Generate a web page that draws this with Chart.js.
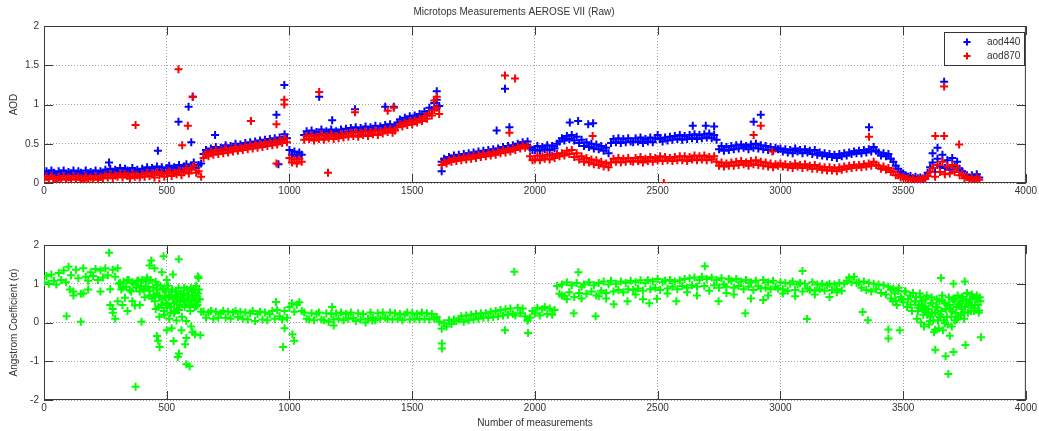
<!DOCTYPE html>
<html lang="en">
<head>
<meta charset="UTF-8">
<title>Microtops Measurements AEROSE VII (Raw)</title>
<script src="https://cdn.jsdelivr.net/npm/chart.js"></script>
<style>
  body { margin: 0; background: #fff; }
  canvas { position: absolute; left: 0; }
</style>
</head>
<body>
<canvas id="topChart" width="1039" height="215" style="top:0"></canvas>
<canvas id="botChart" width="1039" height="216" style="top:215px"></canvas>
<script>
// measurement number of value i is i * STEP
const STEP = 10;

const aod440 = [
  0.11,0.15,0.12,0.16,0.13,0.10,0.15,0.12,0.16,0.11,0.14,0.12,0.16,0.11,0.15,0.13,0.10,0.16,0.12,0.14,
  0.12,0.16,0.11,0.15,0.13,0.17,0.14,0.18,0.13,0.17,0.15,0.19,0.14,0.18,0.16,0.13,0.19,0.15,0.17,0.14,
  0.18,0.15,0.20,0.16,0.19,0.14,0.21,0.17,0.20,0.15,0.19,0.22,0.16,0.20,0.18,0.23,0.17,0.21,0.24,0.18,
  0.22,0.26,0.19,0.23,0.25,0.37,0.42,0.39,0.44,0.40,0.46,0.41,0.45,0.42,0.48,0.43,0.47,0.44,0.50,0.45,
  0.49,0.46,0.51,0.47,0.52,0.48,0.53,0.49,0.54,0.50,0.55,0.51,0.56,0.52,0.57,0.53,0.58,0.55,0.62,0.57,
  0.42,0.36,0.40,0.34,0.39,0.36,0.61,0.66,0.62,0.67,0.60,0.65,0.62,0.68,0.61,0.66,0.63,0.68,0.62,0.66,
  0.63,0.68,0.64,0.69,0.65,0.70,0.66,0.71,0.65,0.70,0.67,0.72,0.66,0.71,0.68,0.73,0.67,0.72,0.69,0.74,
  0.71,0.75,0.70,0.73,0.77,0.81,0.78,0.83,0.80,0.85,0.81,0.86,0.83,0.88,0.85,0.91,0.88,0.96,0.93,1.02,
  1.06,0.98,0.27,0.31,0.29,0.33,0.31,0.35,0.32,0.36,0.33,0.37,0.34,0.38,0.35,0.39,0.36,0.40,0.37,0.41,
  0.38,0.42,0.39,0.43,0.40,0.44,0.42,0.46,0.43,0.47,0.44,0.48,0.46,0.50,0.48,0.52,0.49,0.53,0.45,0.42,
  0.42,0.47,0.41,0.46,0.43,0.48,0.42,0.47,0.44,0.50,0.53,0.57,0.54,0.60,0.56,0.61,0.54,0.59,0.51,0.55,
  0.47,0.52,0.46,0.50,0.44,0.49,0.43,0.47,0.41,0.45,0.38,0.51,0.56,0.52,0.57,0.51,0.56,0.52,0.57,0.53,
  0.52,0.57,0.53,0.58,0.51,0.56,0.53,0.58,0.52,0.57,0.61,0.56,0.53,0.58,0.54,0.59,0.55,0.60,0.56,0.61,
  0.55,0.60,0.56,0.61,0.57,0.62,0.56,0.61,0.57,0.62,0.58,0.63,0.57,0.61,0.55,0.43,0.47,0.41,0.46,0.42,
  0.47,0.43,0.48,0.44,0.49,0.45,0.47,0.43,0.49,0.45,0.50,0.44,0.48,0.43,0.47,0.42,0.46,0.41,0.45,0.43,
  0.44,0.40,0.43,0.39,0.42,0.38,0.44,0.40,0.42,0.38,0.43,0.39,0.41,0.37,0.42,0.36,0.39,0.35,0.38,0.34,
  0.37,0.33,0.36,0.32,0.37,0.34,0.38,0.35,0.39,0.37,0.40,0.38,0.41,0.38,0.42,0.39,0.43,0.40,0.46,0.41,
  0.39,0.35,0.38,0.34,0.37,0.31,0.27,0.22,0.18,0.14,0.12,0.10,0.08,0.09,0.06,0.08,0.06,0.07,0.05,0.08,
  0.13,0.20,0.26,0.14,0.31,0.21,0.36,0.19,0.29,0.17,0.32,0.21,0.27,0.18,0.15,0.11,0.10,0.07,0.10,0.06,
  0.11,0.07
];

const aod870 = [
  0.04,0.08,0.05,0.09,0.06,0.03,0.08,0.05,0.09,0.04,0.07,0.05,0.09,0.04,0.08,0.06,0.03,0.09,0.05,0.07,
  0.05,0.09,0.04,0.08,0.06,0.10,0.07,0.11,0.06,0.10,0.08,0.12,0.07,0.11,0.09,0.06,0.12,0.08,0.10,0.07,
  0.11,0.08,0.13,0.09,0.12,0.07,0.14,0.10,0.13,0.08,0.12,0.15,0.09,0.13,0.11,0.16,0.10,0.14,0.19,0.12,
  0.17,0.22,0.13,0.15,0.08,0.32,0.38,0.34,0.40,0.36,0.42,0.37,0.41,0.38,0.44,0.39,0.43,0.40,0.46,0.41,
  0.45,0.42,0.47,0.43,0.48,0.44,0.49,0.45,0.50,0.46,0.51,0.47,0.52,0.48,0.53,0.49,0.54,0.51,0.57,0.52,
  0.32,0.26,0.30,0.25,0.31,0.27,0.55,0.60,0.56,0.61,0.54,0.59,0.56,0.62,0.55,0.60,0.57,0.62,0.56,0.60,
  0.57,0.62,0.58,0.63,0.59,0.64,0.60,0.65,0.59,0.64,0.61,0.66,0.60,0.65,0.62,0.67,0.61,0.66,0.63,0.68,
  0.65,0.69,0.64,0.67,0.71,0.75,0.72,0.77,0.74,0.79,0.75,0.80,0.77,0.82,0.79,0.85,0.82,0.89,0.86,0.93,
  0.96,0.88,0.23,0.27,0.25,0.29,0.27,0.31,0.28,0.32,0.29,0.33,0.30,0.34,0.31,0.35,0.32,0.36,0.33,0.37,
  0.34,0.38,0.35,0.39,0.36,0.40,0.38,0.42,0.39,0.43,0.40,0.44,0.42,0.46,0.44,0.48,0.45,0.47,0.34,0.29,
  0.30,0.35,0.29,0.34,0.31,0.36,0.30,0.35,0.32,0.37,0.34,0.38,0.35,0.41,0.37,0.42,0.33,0.38,0.30,0.34,
  0.27,0.32,0.26,0.30,0.24,0.29,0.23,0.27,0.21,0.25,0.20,0.26,0.31,0.27,0.32,0.26,0.31,0.27,0.32,0.28,
  0.27,0.32,0.28,0.33,0.26,0.31,0.28,0.33,0.27,0.32,0.29,0.34,0.28,0.33,0.29,0.32,0.28,0.33,0.29,0.34,
  0.29,0.34,0.28,0.33,0.30,0.35,0.29,0.34,0.30,0.35,0.29,0.33,0.30,0.34,0.27,0.22,0.26,0.21,0.25,0.22,
  0.26,0.22,0.27,0.23,0.28,0.24,0.26,0.22,0.28,0.24,0.29,0.23,0.27,0.22,0.26,0.21,0.25,0.20,0.24,0.22,
  0.25,0.21,0.24,0.20,0.23,0.19,0.25,0.21,0.23,0.19,0.24,0.20,0.22,0.18,0.23,0.18,0.21,0.17,0.20,0.16,
  0.20,0.16,0.19,0.15,0.20,0.17,0.21,0.18,0.22,0.19,0.23,0.20,0.23,0.20,0.24,0.21,0.25,0.22,0.27,0.23,
  0.22,0.18,0.21,0.17,0.19,0.14,0.15,0.10,0.10,0.07,0.08,0.05,0.06,0.04,0.06,0.03,0.05,0.04,0.06,0.05,
  0.09,0.14,0.19,0.08,0.23,0.14,0.27,0.11,0.21,0.12,0.23,0.14,0.19,0.10,0.11,0.06,0.08,0.04,0.07,0.03,
  0.07,0.04
];

const alpha = [
  1.04,1.20,1.00,1.24,1.08,0.98,1.28,1.10,1.34,1.04,1.44,1.22,0.80,1.36,1.14,0.74,1.40,1.18,1.08,1.30,
  1.20,1.38,1.10,1.34,1.16,1.40,1.22,0.86,1.36,1.18,1.40,1.02,0.90,0.64,1.10,0.84,1.04,0.44,1.08,0.80,
  1.10,0.88,1.16,0.82,0.62,1.40,0.96,0.70,0.46,0.88,0.38,0.68,0.80,0.24,0.54,0.32,0.74,0.56,0.04,0.70,
  0.48,0.84,0.42,0.60,0.28,0.28,0.12,0.26,0.30,0.10,0.28,0.12,0.24,0.30,0.12,0.28,0.10,0.26,0.30,0.14,
  0.28,0.10,0.26,0.08,0.24,0.30,0.04,0.22,0.28,0.08,0.26,0.06,0.22,0.30,0.10,0.32,0.16,0.08,0.30,0.12,
  0.40,0.50,0.28,0.46,0.52,0.30,0.26,0.10,0.08,0.24,0.06,0.22,0.26,0.08,0.06,0.24,0.02,0.22,0.08,0.24,
  0.10,0.26,0.06,0.22,0.10,0.26,0.12,0.04,0.24,0.08,0.22,0.00,0.10,0.26,0.12,0.06,0.24,0.10,0.26,0.12,
  0.10,0.26,0.08,0.24,0.10,0.22,0.06,0.20,0.26,0.08,0.24,0.10,0.22,0.08,0.26,0.10,0.24,0.08,0.22,0.10,
  0.14,0.02,-0.16,-0.02,-0.10,0.06,-0.04,0.08,0.04,0.08,0.16,0.02,0.18,0.06,0.20,0.08,0.22,0.10,0.24,0.12,
  0.24,0.12,0.28,0.14,0.30,0.16,0.32,0.18,0.34,0.20,0.36,0.22,0.18,0.38,0.24,0.36,0.16,0.06,0.12,0.30,
  0.24,0.38,0.18,0.34,0.40,0.22,0.36,0.20,0.32,0.94,0.74,0.98,0.68,1.04,0.78,0.96,0.66,1.02,0.76,0.92,
  0.98,0.74,1.04,0.80,0.96,0.70,1.02,0.82,1.06,0.76,0.98,1.08,0.80,1.00,0.84,1.06,0.78,1.02,0.86,1.08,
  0.84,1.04,0.88,1.09,0.82,1.02,1.10,0.86,1.06,0.90,1.12,0.84,1.04,1.08,0.88,1.10,0.92,1.06,0.86,1.09,
  0.94,1.12,0.90,1.14,0.96,1.16,0.92,1.10,1.18,0.94,1.12,0.82,1.16,0.96,1.10,0.90,1.14,0.98,0.92,1.12,
  1.08,0.90,1.12,0.94,1.06,0.86,1.10,0.92,1.04,0.84,1.08,0.94,0.88,1.10,0.90,1.04,0.86,1.08,0.92,0.88,
  1.04,0.86,1.02,0.82,1.00,1.06,0.84,0.98,1.02,0.80,1.00,0.88,0.84,1.04,0.82,0.98,0.86,1.00,0.82,0.96,
  1.00,0.84,0.98,0.86,1.02,0.82,1.00,1.08,1.16,1.04,1.18,1.02,1.04,0.90,1.06,0.84,1.02,0.80,1.00,0.86,
  0.98,0.76,0.96,0.72,0.92,0.62,0.88,0.56,0.82,0.66,0.52,0.80,0.60,0.46,0.76,0.54,0.38,0.66,0.44,0.32,
  0.26,0.04,0.49,-0.19,0.39,0.14,0.56,-0.02,0.44,-0.34,0.29,0.62,0.08,0.49,0.66,0.26,0.76,0.44,0.72,0.36,
  0.62,0.31
];

// stray measurements [measurement, value]
const aod440Outliers = [
  [265,0.26],[464,0.41],[548,0.78],[589,0.97],[606,1.10],[600,0.52],[843,0.79],[697,0.61],
  [947,0.87],[955,0.24],[979,1.25],[1121,1.10],[1174,0.80],[1267,0.94],[1390,0.97],[1425,0.97],
  [1600,1.17],[1620,0.15],[1878,1.20],[1844,0.67],[1896,0.71],[2142,0.77],[2176,0.79],[2217,0.75],
  [2237,0.76],[2643,0.73],[2696,0.73],[2730,0.72],[2891,0.78],[2920,0.87],[3361,0.71],[3667,1.29],
  [3620,0.38],[3640,0.45]
];
const aod870Outliers = [
  [373,0.74],[548,1.45],[606,1.10],[586,0.73],[563,0.48],[470,-0.01],[843,0.79],[947,0.25],
  [979,1.06],[979,1.00],[947,0.75],[1121,1.16],[1157,0.13],[1267,0.90],[1400,0.92],[1425,0.96],
  [1878,1.37],[1919,1.33],[1896,0.64],[2235,0.60],[2525,0.00],[2891,0.61],[2920,0.73],[2967,0.40],
  [3361,0.59],[3667,1.23],[3631,0.60],[3667,0.60],[3728,0.49],[1600,1.10],[1590,1.05]
];
const alphaOutliers = [
  [265,1.80],[487,1.71],[549,1.63],[373,-1.66],[593,-1.13],[580,-1.08],[545,-0.89],[550,-0.80],
  [471,-0.63],[465,-0.47],[460,-0.35],[528,-0.48],[575,-0.56],[637,-0.33],[605,-0.25],[92,0.16],
  [150,0.02],[397,0.02],[974,-0.63],[1019,-0.47],[1012,-0.30],[980,-0.15],[945,0.53],[1174,0.40],
  [627,1.19],[525,1.24],[437,1.60],[430,1.47],[1621,-0.54],[1621,-0.67],[1916,1.31],[1878,-0.20],
  [2692,1.45],[2177,1.30],[3090,1.33],[3654,1.15],[3705,1.00],[3751,1.06],[3684,-1.33],[3631,-0.70],
  [3673,-0.87],[3705,-0.76],[3754,-0.58],[3817,-0.38],[3440,-0.41],[3486,-0.20],[3440,-0.18],[3356,0.06],
  [3335,0.27],[3108,0.09],[2857,0.24],[2247,0.16],[2158,0.24],[1972,-0.27],[2748,0.55],[2576,0.55],
  [2377,0.55],[2321,0.47],[2466,0.50],[2497,0.61],[1970,0.05],[1338,0.05],[1180,-0.08],
  [455,0.35],[490,0.20],[510,0.10],[520,-0.15],[560,-0.20],[580,-0.40],[600,-0.10],[615,-0.30],
  [500,-0.20],[540,0.05],[470,0.15],[480,1.30],[500,1.10],[620,0.95],[630,1.15],
  [105,0.85],[120,0.70],[160,0.75],[180,0.85],[230,0.80],[270,0.45],[280,0.35],[300,0.55],
  [320,0.45],[340,0.30],[360,0.55],[390,0.45],[410,0.65],[430,0.70],[280,0.25],[290,0.10],
  [2110,0.70],[2130,0.60],[2190,0.62],[2260,0.68],[2290,0.62],[2410,0.72],[2440,0.60],[2540,0.75],
  [2620,0.78],[2660,0.70],[2780,0.76],[2810,0.72],[2880,0.62],[2930,0.58],[2950,0.70],[3010,0.75],
  [3060,0.68],[3140,0.72],[3200,0.66],[3230,0.78]
];
// dense scatter of the noisy stretches
const alphaCloud = [
  [305,1.00],[315,0.85],[325,1.05],[335,0.92],[345,1.10],[355,0.80],[365,1.00],[375,0.90],
  [385,1.08],[395,0.95],[405,0.85],[415,1.05],[425,0.92],[435,1.10],
  [445,0.90],[452,0.55],[458,0.75],[466,0.40],[474,0.95],[482,0.60],[488,0.30],[495,0.80],
  [503,0.45],[508,0.65],[515,0.25],[522,0.85],[530,0.50],[535,0.70],[542,0.35],[548,0.90],
  [555,0.55],[562,0.15],[568,0.75],[573,0.40],[582,0.85],[588,0.60],[596,0.30],[603,0.80],
  [610,0.55],[618,0.70],[625,0.45],[632,0.85],
  [448,0.70],[455,1.05],[462,0.85],[470,0.65],[478,0.45],[485,0.85],[492,0.65],[498,0.50],
  [505,0.95],[512,0.70],[518,0.40],[525,0.60],[532,0.30],[538,0.80],[545,0.65],[552,0.45],
  [558,0.75],[565,0.60],[571,0.90],[578,0.55],[585,0.70],[592,0.45],[598,0.90],[606,0.65],
  [613,0.40],[620,0.60],[628,0.75],[635,0.60],
  [3450,0.85],[3458,0.55],[3466,0.75],[3474,0.45],[3482,0.90],[3495,0.60],[3508,0.80],[3516,0.40],
  [3528,0.70],[3536,0.30],[3548,0.55],[3556,0.10],[3565,0.45],[3572,0.00],[3578,0.35],[3585,-0.10],
  [3592,0.60],[3598,0.20],[3605,-0.05],[3612,0.50],[3618,0.25],[3626,-0.25],[3634,0.40],[3642,0.05],
  [3648,0.55],[3656,0.30],[3662,-0.20],[3670,0.50],[3678,0.15],[3686,0.65],[3692,0.35],[3698,-0.10],
  [3708,0.55],[3714,0.25],[3722,0.70],[3728,0.45],[3736,0.20],[3744,0.60],[3752,0.40],[3760,0.75],
  [3768,0.50],[3776,0.30],[3784,0.65],[3792,0.45],[3800,0.70],[3808,0.25],[3815,0.55],
  [3552,0.65],[3560,0.30],[3568,0.75],[3575,0.55],[3582,0.20],[3589,0.40],[3596,0.70],[3603,0.35],
  [3609,0.15],[3616,0.65],[3623,0.05],[3630,0.25],[3637,0.60],[3645,-0.15],[3652,0.20],[3659,0.70],
  [3666,0.05],[3674,0.35],[3681,-0.05],[3689,0.45],[3696,0.15],[3703,0.60],[3711,0.05],[3718,0.40],
  [3725,0.15],[3733,0.55],[3740,0.35],[3748,0.10],[3756,0.55],[3764,0.25],[3772,0.60],[3780,0.45],
  [3788,0.30],[3796,0.60],[3804,0.45],[3812,0.65]
];

const xTicks = [0, 500, 1000, 1500, 2000, 2500, 3000, 3500, 4000];
const legendNames = ['aod440', 'aod870'];

function toPoints(values, extra) {
  const pts = values.map((v, i) => ({ x: i * STEP, y: v }));
  extra.forEach(list => list.forEach(p => pts.push({ x: p[0], y: p[1] })));
  return pts;
}

Chart.defaults.font.family = '"Liberation Sans", Arial, sans-serif';
Chart.defaults.font.size = 10;
Chart.defaults.color = '#333';

// MATLAB-like box with inward tick marks
const frame = {
  id: 'frame',
  beforeDatasetsDraw(chart) {
    const { ctx, chartArea: a, scales } = chart;
    const L = 9;
    ctx.save();
    ctx.strokeStyle = '#3a3a3a';
    ctx.lineWidth = 1;
    ctx.beginPath();
    scales.x.ticks.forEach(t => {
      const px = Math.round(scales.x.getPixelForValue(t.value)) + 0.5;
      ctx.moveTo(px, a.bottom); ctx.lineTo(px, a.bottom - L);
      ctx.moveTo(px, a.top); ctx.lineTo(px, a.top + L);
    });
    scales.y.ticks.forEach(t => {
      const py = Math.round(scales.y.getPixelForValue(t.value)) + 0.5;
      ctx.moveTo(a.left, py); ctx.lineTo(a.left + L, py);
      ctx.moveTo(a.right, py); ctx.lineTo(a.right - L, py);
    });
    ctx.stroke();
    ctx.strokeRect(a.left + 0.5, a.top + 0.5, a.right - a.left - 1, a.bottom - a.top - 1);
    ctx.restore();
  }
};

function drawCross(ctx, x, y, color) {
  ctx.strokeStyle = color;
  ctx.lineWidth = 2;
  ctx.beginPath();
  ctx.moveTo(x - 3.5, y); ctx.lineTo(x + 3.5, y);
  ctx.moveTo(x, y - 3.5); ctx.lineTo(x, y + 3.5);
  ctx.stroke();
}

const boxLegend = {
  id: 'boxLegend',
  afterDraw(chart) {
    const ctx = chart.ctx;
    ctx.save();
    ctx.fillStyle = '#fff';
    ctx.fillRect(944.5, 32.5, 80, 33);
    ctx.strokeStyle = '#333';
    ctx.lineWidth = 1;
    ctx.strokeRect(944.5, 32.5, 80, 33);
    const colors = ['#0000ff', '#ff0000'];
    legendNames.forEach((name, i) => {
      const y = 42 + i * 14;
      drawCross(ctx, 967, y, colors[i]);
      ctx.fillStyle = '#333';
      ctx.font = '10px "Liberation Sans", Arial, sans-serif';
      ctx.textBaseline = 'middle';
      ctx.textAlign = 'left';
      ctx.fillText(name, 987, y);
    });
    ctx.restore();
  }
};

function pointDataset(label, data, color, order) {
  return {
    label: label,
    data: data,
    order: order,
    pointStyle: 'cross',
    pointRadius: 4,
    pointBorderWidth: 2,
    borderColor: color,
    backgroundColor: color
  };
}

function axes(yMin, yMax, yStep, yTitle, xTitle, xHeight) {
  return {
    x: {
      type: 'linear', min: 0, max: 4000,
      afterBuildTicks: s => { s.ticks = xTicks.map(v => ({ value: v })); },
      afterFit: s => { s.height = xHeight; },
      ticks: { padding: 2, maxRotation: 0, autoSkip: false, callback: v => String(v) },
      grid: { color: '#a0a0a0', drawTicks: false, lineWidth: 1 },
      border: { display: false, dash: [1, 2] },
      title: xTitle ? { display: true, text: xTitle, padding: { top: 0, bottom: 2 }, color: '#333' } : { display: false }
    },
    y: {
      min: yMin, max: yMax,
      afterFit: s => { s.width = 44; },
      ticks: { stepSize: yStep, padding: 5, callback: v => String(v) },
      grid: { color: '#a0a0a0', drawTicks: false, lineWidth: 1 },
      border: { display: false, dash: [1, 2] },
      title: { display: true, text: yTitle, padding: { top: 8, bottom: 0 }, color: '#333' }
    }
  };
}

new Chart(document.getElementById('topChart'), {
  type: 'scatter',
  data: {
    datasets: [
      pointDataset('aod440', toPoints(aod440, [aod440Outliers]), '#0000ff', 2),
      pointDataset('aod870', toPoints(aod870, [aod870Outliers]), '#ff0000', 1)
    ]
  },
  options: {
    responsive: false,
    animation: false,
    events: [],
    layout: { padding: { top: 0, right: 11, left: 0, bottom: 0 } },
    plugins: {
      legend: { display: false },
      tooltip: { enabled: false },
      title: {
        display: true,
        text: 'Microtops Measurements AEROSE VII (Raw)',
        color: '#333',
        font: { size: 10, weight: 'normal' },
        padding: { top: 6, bottom: 8 }
      }
    },
    scales: axes(0, 2, 0.5, 'AOD', null, 32)
  },
  plugins: [frame, boxLegend]
});

new Chart(document.getElementById('botChart'), {
  type: 'scatter',
  data: {
    datasets: [
      pointDataset('alpha', toPoints(alpha, [alphaOutliers, alphaCloud]), '#00ff00', 1)
    ]
  },
  options: {
    responsive: false,
    animation: false,
    events: [],
    layout: { padding: { top: 30, right: 11, left: 0, bottom: 0 } },
    plugins: {
      legend: { display: false },
      tooltip: { enabled: false }
    },
    scales: axes(-2, 2, 1, 'Angstrom Coefficient (α)', 'Number of measurements', 31)
  },
  plugins: [frame]
});
</script>
</body>
</html>
